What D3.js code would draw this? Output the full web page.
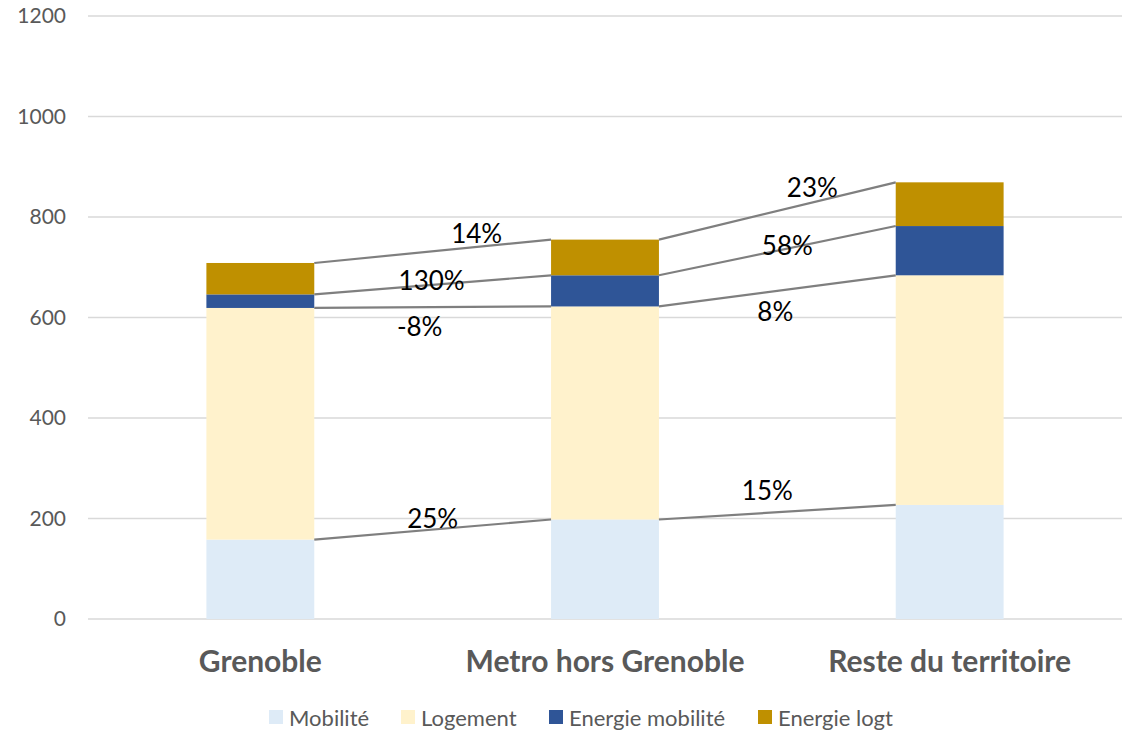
<!DOCTYPE html>
<html><head><meta charset="utf-8">
<script src="https://cdn.jsdelivr.net/npm/d3@7"></script>
<style>
html,body{margin:0;padding:0;background:#fff;}
svg{display:block;font-family:Lato,"Liberation Sans",sans-serif;}
</style></head>
<body><svg id="chart" width="1127" height="730"></svg>
<script>
// ---- data ----
const categories = ["Grenoble", "Metro hors Grenoble", "Reste du territoire"];
const seriesNames = ["Mobilité", "Logement", "Energie mobilité", "Energie logt"];
const mobilite = [158, 198, 227];
const logement = [461, 424, 457];
const energieMobilite = [27, 62, 98];
const energieLogt = [62.5, 71, 87];
const yTicks = [0, 200, 400, 600, 800, 1000, 1200];
// percentage change labels: [series][pair]
const changeLabels = [
  ["25%", "15%"],
  ["-8%", "8%"],
  ["130%", "58%"],
  ["14%", "23%"]
];
const colors = ["#deebf7", "#fff2cc", "#2f5597", "#bf9000"];

// ---- layout ----
const svg = d3.select("#chart");
const plotL = 88, plotR = 1122, plotT = 16, plotB = 619;
const x = d3.scaleBand().domain(categories).range([plotL, plotR]).paddingInner(0.687).paddingOuter(0.3435);
const y = d3.scaleLinear().domain([0, 1200]).range([plotB, plotT]);

const series = [mobilite, logement, energieMobilite, energieLogt];
const table = categories.map((c, i) => {
  const o = {cat: c};
  seriesNames.forEach((s, k) => o[s] = series[k][i]);
  return o;
});
const stacked = d3.stack().keys(seriesNames)(table);

// gridlines
svg.append("g").selectAll("line").data(yTicks).join("line")
  .attr("x1", plotL).attr("x2", plotR)
  .attr("y1", d => y(d)).attr("y2", d => y(d))
  .attr("stroke", "#d9d9d9").attr("stroke-width", 1.3);

// y axis labels
const yAxis = d3.axisLeft(y).tickValues(yTicks).tickSize(0).tickPadding(0).tickFormat(d3.format("d"));
const ya = svg.append("g").attr("transform", `translate(66,0)`).call(yAxis);
ya.select(".domain").remove();
ya.selectAll("text").attr("font-size", 21).attr("fill", "#595959")
  .attr("font-family", "Lato, 'Liberation Sans', sans-serif");

// bars
svg.append("g").selectAll("g").data(stacked).join("g")
  .attr("fill", (d, k) => colors[k])
  .selectAll("rect").data(d => d).join("rect")
  .attr("x", d => x(d.data.cat))
  .attr("width", x.bandwidth())
  .attr("y", d => y(d[1]))
  .attr("height", d => y(d[0]) - y(d[1]));

// connector lines and change labels
const labelOffsets = [
  [[0, -12], [-10, -22]],
  [[-13, 19], [-2, 20]],
  [[-1, -4.5], [10, -6]],
  [[44, -18], [35, -24]]
];
const lg = svg.append("g");
stacked.forEach((s, k) => {
  for (let i = 0; i < categories.length - 1; i++) {
    const x1 = x(categories[i]) + x.bandwidth();
    const x2 = x(categories[i + 1]);
    const y1 = y(s[i][1]);
    const y2 = y(s[i + 1][1]);
    lg.append("line").attr("x1", x1).attr("y1", y1).attr("x2", x2).attr("y2", y2)
      .attr("stroke", "#7f7f7f").attr("stroke-width", 2.2);
    const off = labelOffsets[k][i];
    lg.append("text")
      .attr("x", (x1 + x2) / 2 + off[0])
      .attr("y", (y1 + y2) / 2 + off[1])
      .attr("text-anchor", "middle").attr("dominant-baseline", "central")
      .attr("font-size", 26).attr("fill", "#000")
      .text(changeLabels[k][i]);
  }
});

// category labels
svg.append("g").selectAll("text").data(categories).join("text")
  .attr("x", d => x(d) + x.bandwidth() / 2)
  .attr("y", 660)
  .attr("text-anchor", "middle").attr("dominant-baseline", "central")
  .attr("font-size", 30).attr("font-weight", "bold").attr("fill", "#595959")
  .text(d => d);

// legend
const legendX = [269, 401, 549, 758];
const leg = svg.append("g").selectAll("g").data(seriesNames).join("g")
  .attr("transform", (d, i) => `translate(${legendX[i]},717)`);
leg.append("rect").attr("x", 0).attr("y", -7).attr("width", 14).attr("height", 14)
  .attr("fill", (d, i) => colors[i]);
leg.append("text").attr("x", 20).attr("y", 0).attr("dominant-baseline", "central")
  .attr("font-size", 22).attr("fill", "#595959").text(d => d);
</script>
</body></html>
